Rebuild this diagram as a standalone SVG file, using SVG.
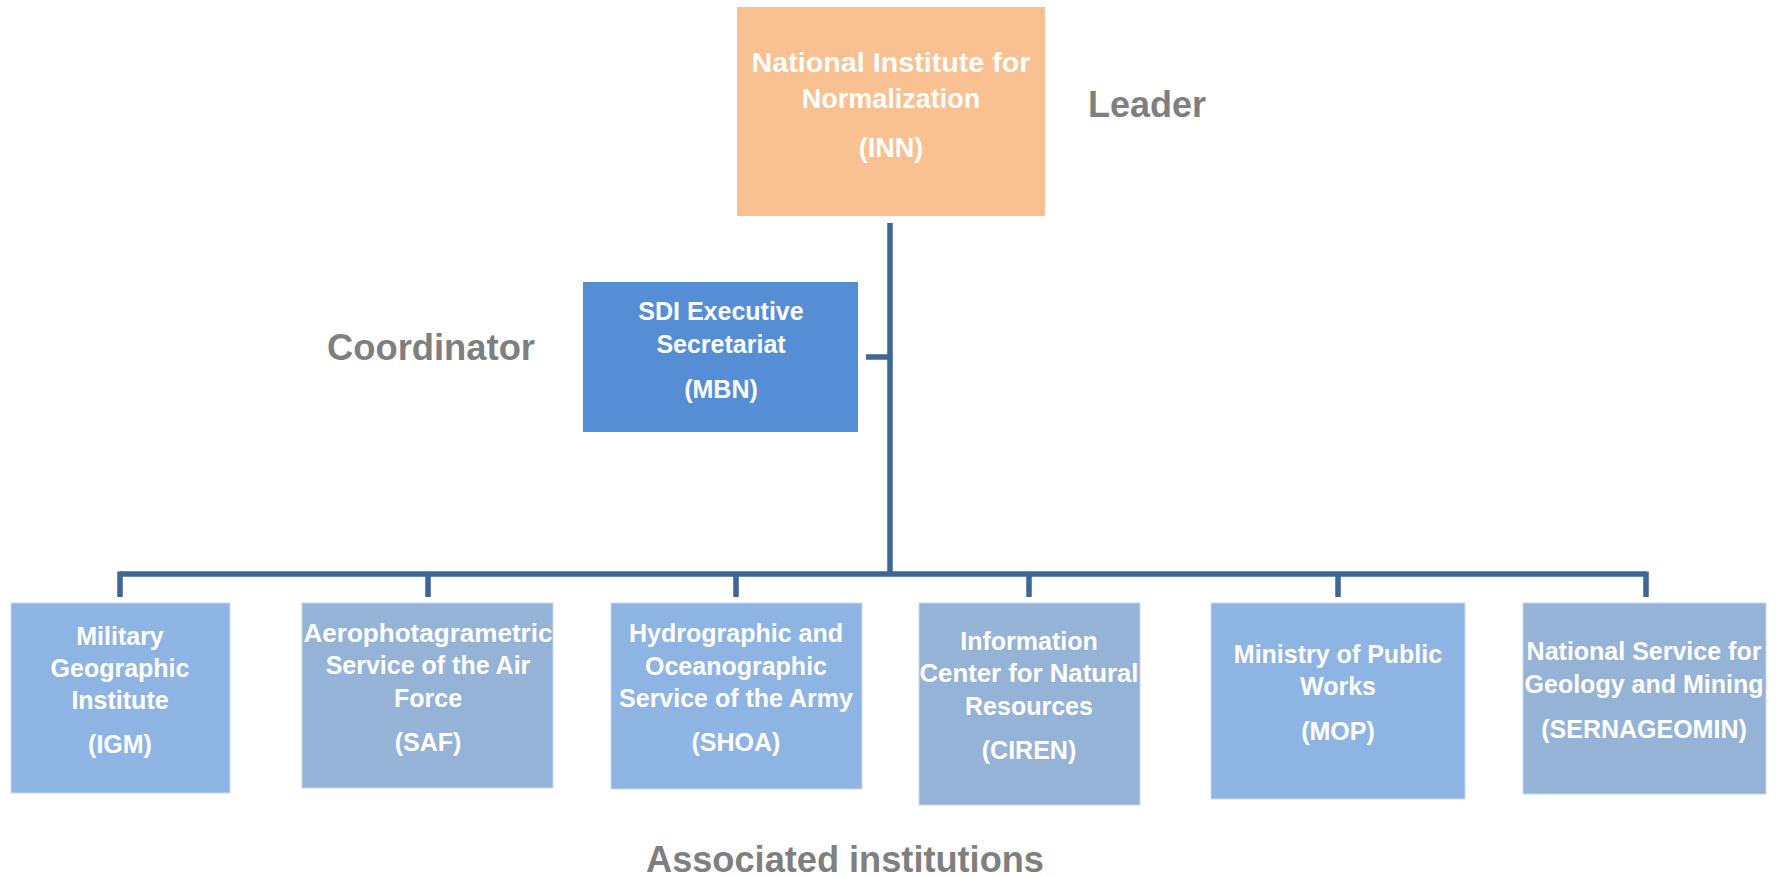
<svg xmlns="http://www.w3.org/2000/svg" width="1783" height="877" viewBox="0 0 1783 877">
<style>
.t{font-family:"Liberation Sans",Arial,sans-serif;font-weight:bold;fill:#fff;text-anchor:middle}
.b{font-size:25px}
.lab{font-family:"Liberation Sans",Arial,sans-serif;font-weight:bold;fill:#7F7F7F;font-size:36px;text-anchor:middle}
.c{stroke:#3E6698;stroke-width:5.5;fill:none}
.bx{stroke:#C9D8EC;stroke-width:1}
</style>
<rect width="1783" height="877" fill="#fff"/>
<g id="connectors">
<path class="c" d="M890 223 V574"/>
<path class="c" d="M866 357 H890"/>
<path class="c" d="M120 574 H1646"/>
<path class="c" d="M120 571.5 V597 M428 574 V597 M736 574 V597 M1029 574 V597 M1338 574 V597 M1646 571.5 V597"/>
</g>
<g id="inn">
<rect x="737" y="7" width="308" height="209" fill="#F9C091"/>
<text class="t" style="font-size:27px" x="891" y="72" textLength="279" lengthAdjust="spacingAndGlyphs">National Institute for</text>
<text class="t" style="font-size:27px" x="891" y="108">Normalization</text>
<text class="t" style="font-size:27px" x="891" y="157">(INN)</text>
</g>
<text class="lab" x="1147" y="117">Leader</text>
<g id="mbn">
<rect x="583" y="282" width="275" height="150" fill="#558ED5"/>
<text class="t b" x="721" y="320">SDI Executive</text>
<text class="t b" x="721" y="353">Secretariat</text>
<text class="t b" x="721" y="398">(MBN)</text>
</g>
<text class="lab" x="431" y="360" textLength="208" lengthAdjust="spacingAndGlyphs">Coordinator</text>
<g id="igm">
<rect class="bx" x="11" y="603" width="219" height="190" fill="#8EB4E3"/>
<text class="t b" x="120" y="645">Military</text>
<text class="t b" x="120" y="677">Geographic</text>
<text class="t b" x="120" y="709">Institute</text>
<text class="t b" x="120" y="753">(IGM)</text>
</g>
<g id="saf">
<rect class="bx" x="302" y="603" width="251" height="185" fill="#95B3D7"/>
<text class="t b" x="428" y="642" textLength="249" lengthAdjust="spacingAndGlyphs">Aerophotagrametric</text>
<text class="t b" x="428" y="674">Service of the Air</text>
<text class="t b" x="428" y="707">Force</text>
<text class="t b" x="428" y="751">(SAF)</text>
</g>
<g id="shoa">
<rect class="bx" x="611" y="603" width="251" height="186" fill="#8EB4E3"/>
<text class="t b" x="736" y="642">Hydrographic and</text>
<text class="t b" x="736" y="675">Oceanographic</text>
<text class="t b" x="736" y="707">Service of the Army</text>
<text class="t b" x="736" y="751">(SHOA)</text>
</g>
<g id="ciren">
<rect class="bx" x="919" y="603" width="221" height="202" fill="#95B3D7"/>
<text class="t b" x="1029" y="650">Information</text>
<text class="t b" x="1029" y="682" textLength="219" lengthAdjust="spacingAndGlyphs">Center for Natural</text>
<text class="t b" x="1029" y="715">Resources</text>
<text class="t b" x="1029" y="759">(CIREN)</text>
</g>
<g id="mop">
<rect class="bx" x="1211" y="603" width="254" height="196" fill="#8EB4E3"/>
<text class="t b" x="1338" y="663">Ministry of Public</text>
<text class="t b" x="1338" y="695">Works</text>
<text class="t b" x="1338" y="740">(MOP)</text>
</g>
<g id="sernageomin">
<rect class="bx" x="1523" y="603" width="243" height="191" fill="#95B3D7"/>
<text class="t b" x="1644" y="660">National Service for</text>
<text class="t b" x="1644" y="693">Geology and Mining</text>
<text class="t b" x="1644" y="738">(SERNAGEOMIN)</text>
</g>
<text class="lab" x="845" y="872" textLength="398" lengthAdjust="spacingAndGlyphs">Associated institutions</text>
</svg>
